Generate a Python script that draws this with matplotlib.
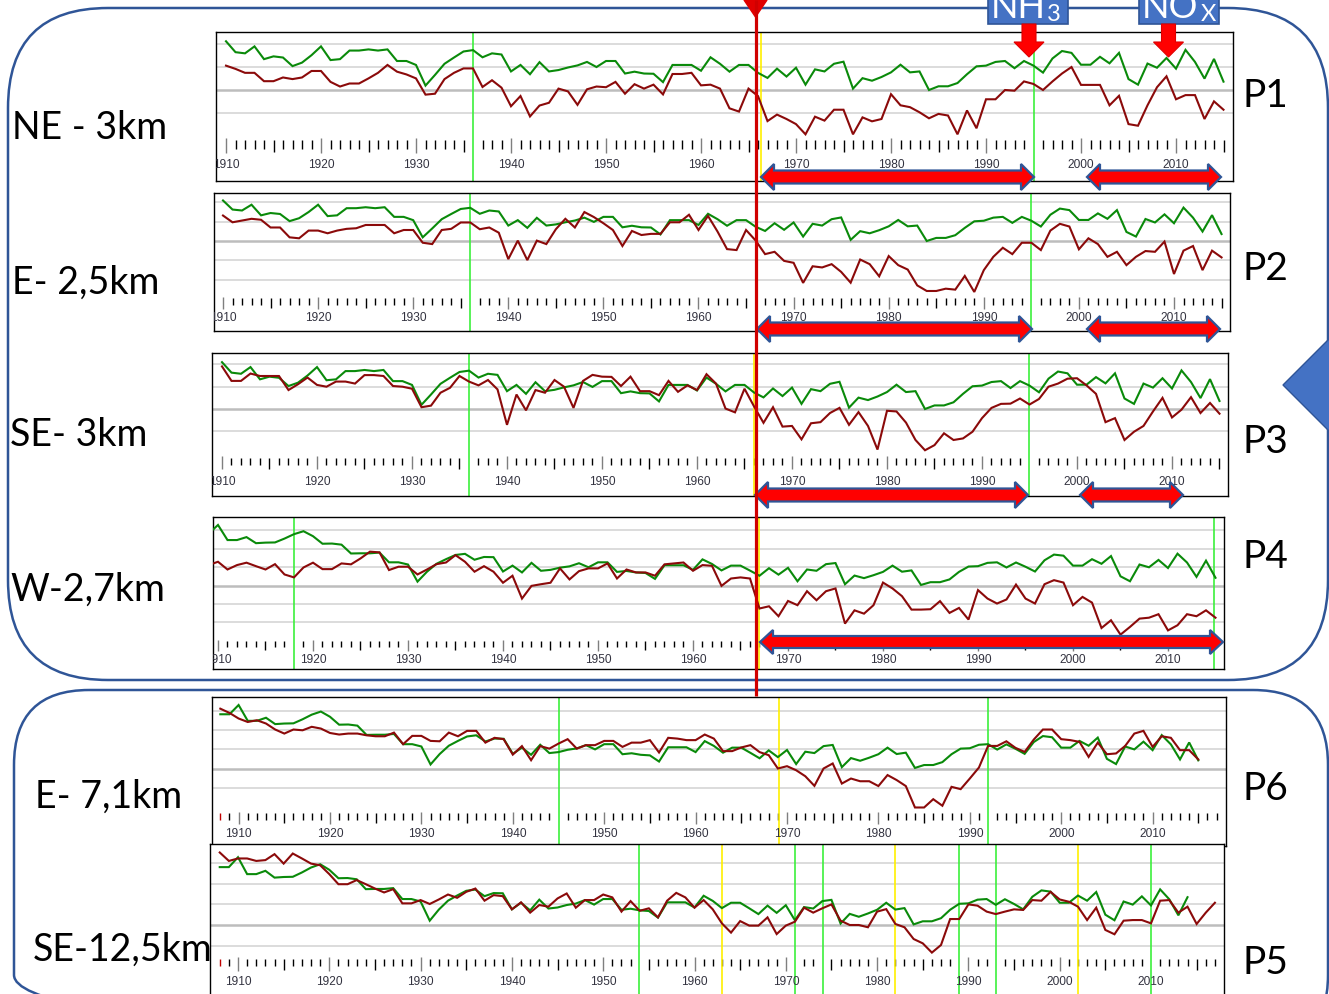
import matplotlib
matplotlib.use('Agg')
import matplotlib.pyplot as plt
from matplotlib.patches import FancyBboxPatch, Polygon, Rectangle

W, H = 1329, 994

# ---------------- data (values in grid-line units, 0 = heavy grid line) ----------------
YEARS_A = list(range(1910, 2016))
GREEN_A = [2.1, 1.63, 1.58, 1.88, 1.33, 1.45, 1.4, 1.03, 1.18, 1.5,
           1.88, 1.29, 1.33, 1.7, 1.7, 1.75, 1.7, 1.75, 1.25, 1.25,
           1.08, 0.19, 0.65, 1.13, 1.4, 1.66, 1.72, 1.41, 1.58, 1.53,
           0.8, 1.08, 0.68, 1.2, 0.8, 0.86, 0.97, 1.06, 1.21, 0.99,
           1.25, 1.25, 0.71, 0.79, 0.71, 0.7, 0.34, 1.08, 1.08, 1.08,
           0.83, 1.41, 1.13, 0.79, 1.08, 1.08, 0.74, 0.52, 0.92, 0.58,
           0.96, 0.23, 0.89, 0.8, 1.13, 1.22, 0.06, 0.51, 0.4, 0.56,
           0.76, 1.09, 0.76, 0.8, 0.0, 0.16, 0.16, 0.3, 0.68, 1.02,
           1.05, 1.21, 1.25, 0.94, 1.25, 1.05, 0.75, 1.36, 1.68, 1.6,
           1.09, 1.09, 1.43, 1.15, 1.6, 0.47, 0.23, 1.14, 0.96, 1.38,
           0.92, 1.73, 1.21, 0.49, 1.34, 0.36]

YEARS_B = list(range(1908, 2016))
GREEN_B = [2.81, 2.81,
           3.29, 2.47, 2.47, 2.63, 2.3, 2.33, 2.34, 2.55, 2.79, 2.95,
           2.68, 2.27, 2.28, 2.22, 1.74, 1.75, 1.75, 1.79, 1.26, 1.26,
           1.14, 0.21, 0.75, 1.18, 1.43, 1.66, 1.72, 1.4, 1.55, 1.54,
           0.76, 1.08, 0.71, 1.23, 0.8, 0.85, 0.97, 1.04, 1.21, 0.99,
           1.26, 1.26, 0.74, 0.79, 0.71, 0.68, 0.36, 1.1, 1.1, 1.1,
           0.85, 1.42, 1.17, 0.82, 1.08, 1.08, 0.81, 0.53, 0.94, 0.59,
           0.96, 0.23, 0.87, 0.8, 1.16, 1.22, 0.07, 0.54, 0.4, 0.56,
           0.74, 1.08, 0.75, 0.82, 0.03, 0.18, 0.18, 0.33, 0.74, 1.03,
           1.05, 1.23, 1.26, 0.98, 1.25, 1.02, 0.76, 1.37, 1.68, 1.62,
           1.08, 1.08, 1.43, 1.18, 1.6, 0.5, 0.23, 1.14, 0.99, 1.39,
           0.95, 1.73, 1.25, 0.47, 1.35, 0.42]

P1_RED = [1.05, 0.91, 0.74, 0.74, 0.38, 0.38, 0.54, 0.47, 0.54, 0.82,
          0.82, 0.35, 0.15, 0.28, 0.28, 0.5, 0.74, 1.08, 0.79, 0.67,
          0.5, -0.2, -0.16, 0.47, 0.74, 0.93, 0.93, 0.13, 0.42, 0.1,
          -0.7, -0.26, -1.14, -0.67, -0.55, 0.06, -0.06, -0.64, 0.03, 0.15,
          0.12, 0.35, -0.16, 0.25, 0.06, 0.23, -0.19, 0.69, 0.69, 0.74,
          0.2, 0.23, 0.06, -0.79, -0.93, 0.06, -0.26, -1.34, -1.06, -1.25,
          -1.47, -1.91, -1.15, -1.32, -0.85, -0.85, -1.91, -1.18, -1.35, -1.25,
          -0.18, -0.66, -0.74, -0.96, -1.22, -1.03, -1.1, -1.91, -0.88, -1.65,
          -0.4, -0.4, 0.0, -0.03, 0.37, 0.26, 0.0, 0.37, 0.71, 0.99,
          0.22, 0.22, 0.22, -0.66, -0.25, -1.47, -1.54, -0.66, 0.12, 0.59,
          -0.4, -0.22, -0.22, -1.25, -0.49, -0.85]

P2_RED = [1.32, 0.97, 1.06, 1.15, 1.1, 0.7, 0.7, 0.19, 0.14, 0.54,
          0.54, 0.4, 0.54, 0.63, 0.66, 0.83, 0.83, 0.83, 0.4, 0.57,
          0.57, -0.09, -0.16, 0.57, 0.63, 0.96, 0.96, 0.61, 0.7, 0.43,
          -0.94, 0.02, -0.99, 0.02, -0.16, 0.61, 1.15, 0.7, 1.5, 1.24,
          0.92, 0.57, -0.26, 0.52, 0.31, 0.37, 0.37, 0.97, 0.97, 1.36,
          0.57, 1.3, 0.49, -0.42, -0.47, 0.57, 0.03, -0.68, -0.56, -1.03,
          -1.13, -2.17, -1.31, -1.37, -1.2, -1.6, -2.16, -0.96, -1.2, -1.83,
          -0.78, -1.25, -1.48, -2.3, -2.59, -2.59, -2.47, -2.52, -1.81, -2.64,
          -1.51, -0.82, -0.35, -0.68, -0.09, -0.09, -0.47, 0.54, 0.89, 0.75,
          -0.43, 0.14, -0.16, -0.82, -0.56, -1.25, -0.82, -0.52, -0.56, -0.03,
          -1.71, -0.5, -0.26, -1.51, -0.5, -0.85]

P3_RED = [1.91, 1.26, 1.26, 1.59, 1.48, 1.48, 1.48, 0.85, 1.11, 1.41,
          1.08, 1.0, 1.23, 1.23, 1.14, 1.52, 1.52, 1.48, 1.03, 1.0,
          0.91, 0.08, 0.15, 0.73, 0.95, 1.48, 1.23, 1.06, 1.3, 0.88,
          -0.71, 0.65, -0.06, 0.85, 0.73, 1.3, 1.0, 0.05, 1.26, 1.53,
          1.45, 1.44, 1.03, 1.45, 0.8, 0.8, 0.62, 1.26, 0.77, 1.06,
          0.85, 1.56, 1.14, 0.02, -0.15, 0.91, 0.12, -0.62, 0.08, -0.79,
          -0.76, -1.36, -0.64, -0.59, -0.18, 0.05, -0.71, -0.14, -0.76, -1.82,
          -0.08, -0.11, -0.61, -1.39, -1.85, -1.62, -1.09, -1.39, -1.32, -1.02,
          -0.41, 0.05, 0.23, 0.24, 0.47, 0.2, 0.45, 1.0, 1.14, 1.36,
          1.38, 1.06, 0.68, -0.59, -0.41, -1.39, -1.02, -0.76, -0.11, 0.5,
          -0.38, -0.03, 0.53, -0.18, 0.27, -0.21]

P4_RED_YEARS = list(range(1909, 2016))
P4_RED = [1.11,
          1.29, 0.87, 1.11, 1.24, 1.05, 0.87, 1.16, 0.6, 0.44, 0.98,
          1.24, 0.89, 0.89, 1.2, 1.15, 1.47, 1.84, 1.8, 0.84, 1.02,
          1.02, 0.6, 0.87, 1.16, 1.25, 1.65, 1.29, 0.75, 1.05, 0.75,
          0.15, 0.53, -0.71, -0.02, 0.07, 0.15, 0.93, 0.33, 0.78, 0.93,
          0.93, 1.2, 0.38, 0.87, 0.71, 0.71, 0.53, 1.15, 1.2, 1.25,
          0.8, 1.11, 1.07, -0.02, 0.38, 0.44, 0.38, -1.25, -1.13, -1.67,
          -0.84, -1.07, -0.31, -0.8, -0.31, -0.16, -2.07, -1.35, -1.53, -1.07,
          0.16, -0.16, -0.58, -1.31, -1.31, -1.29, -0.85, -1.49, -1.22, -1.85,
          -0.25, -0.71, -0.98, -0.76, 0.05, -0.71, -0.98, 0.07, 0.29, 0.16,
          -1.07, -0.62, -0.93, -2.31, -1.89, -2.67, -2.25, -1.8, -1.75, -1.56,
          -2.44, -2.16, -1.56, -1.67, -1.35, -1.75]

P6_RED_YEARS = list(range(1908, 2016))
P6_RED = [3.1, 2.88,
          2.59, 2.41, 2.5, 2.33, 2.02, 1.81, 2.02, 1.98, 2.16, 2.07,
          1.84, 1.76, 1.81, 1.81, 1.72, 1.67, 1.67, 1.86, 1.26, 1.69,
          1.69, 1.43, 1.41, 1.86, 1.67, 1.95, 1.95, 1.34, 1.59, 1.52,
          0.72, 1.16, 0.43, 1.16, 1.03, 1.29, 1.52, 1.03, 1.21, 1.21,
          1.43, 1.43, 1.12, 1.34, 1.34, 1.47, 0.83, 1.59, 1.55, 1.47,
          1.47, 1.76, 1.55, 0.9, 0.9, 1.09, 1.21, 0.85, 0.69, 0.0,
          0.12, -0.09, -0.4, -0.9, 0.0, 0.26, -0.78, -0.52, -0.66, -0.66,
          -0.91, -0.34, -0.6, -0.91, -2.02, -2.02, -1.59, -1.93, -0.95, -1.07,
          -0.52, 0.05, 1.17, 1.17, 1.41, 1.07, 0.86, 1.5, 2.02, 2.02,
          1.52, 1.47, 1.38, 0.6, 1.34, 0.74, 0.78, 1.17, 1.81, 1.95,
          1.12, 1.67, 1.59, 0.95, 0.95, 0.47]

P5_RED_YEARS = list(range(1908, 2018))
P5_RED = [3.52, 3.11,
          3.23, 3.23, 3.11, 3.15, 3.44, 2.98, 3.47, 3.23, 2.98, 2.9,
          2.47, 1.98, 1.98, 2.18, 1.98, 1.77, 1.58, 1.74, 1.05, 1.05,
          1.21, 1.02, 1.24, 1.48, 1.32, 1.61, 1.77, 1.18, 1.45, 1.4,
          0.76, 1.1, 0.6, 0.97, 0.89, 1.29, 1.53, 0.84, 1.21, 1.21,
          1.48, 1.34, 0.65, 1.16, 0.69, 0.81, 0.37, 1.18, 1.56, 1.34,
          0.84, 1.21, 0.76, 0.08, -0.37, 0.19, -0.03, -0.03, 0.37, -0.44,
          -0.03, 0.16, 0.84, 0.6, 0.81, 1.0, 0.21, 0.0, 0.0, -0.11,
          0.65, 0.77, 0.05, -0.11, -0.68, -0.89, -1.34, -0.97, 0.29, 0.29,
          1.0, 0.94, 0.65, 0.53, 0.65, 0.76, 0.73, 1.21, 1.18, 1.61,
          1.24, 1.13, 0.89, 0.24, 0.84, -0.24, -0.45, 0.21, 0.24, 0.24,
          0.08, 1.18, 1.21, 0.6, 0.89, 0.05, 0.6, 1.08]
P5_GREEN_LAST = 2014

SITE_LABELS = ["NE - 3km", "E- 2,5km", "SE- 3km", "W-2,7km", "E- 7,1km", "SE-12,5km"]
PANEL_NAMES = ["P1", "P2", "P3", "P4", "P6", "P5"]

# ---------------- style ----------------
GREEN = '#0A8A0A'
RED = '#8B0A0A'
LIME = '#3CF03C'
YELLOW = '#FFF000'
BLUE_EDGE = '#2F5597'
BLUE_FILL = '#4472C4'
ARROW_RED = '#FF0000'
LABEL_FONT = ['Lato', 'DejaVu Sans']

fig = plt.figure(figsize=(W / 100, H / 100), dpi=100)
fig.patch.set_facecolor('white')


def panel(L, R, T, B, x1910, ppy, g0, unit, grid_vals, series, tick_top, tick_scale,
          tick_years, label_y, vlines, red_first_tick=False):
    ax = fig.add_axes([L / W, 1 - B / H, (R - L) / W, (B - T) / H])
    ax.set_xlim(1910 + (L - x1910) / ppy, 1910 + (R - x1910) / ppy)
    ax.set_ylim((g0 - B) / unit, (g0 - T) / unit)
    ax.set_xticks([])
    ax.set_yticks([])
    for s in ax.spines.values():
        s.set_color('black')
        s.set_linewidth(1.0)
    for gv in grid_vals:
        if gv == 0:
            ax.axhline(gv, color='#BDBDBD', lw=1.8, zorder=1)
        else:
            ax.axhline(gv, color='#D6D6D6', lw=1.2, zorder=1)
    tr = ax.get_xaxis_transform()

    def fr(py):
        return (B - py) / (B - T)

    skip = {round(v[0]) for v in vlines if v[1] == LIME}
    for i, yr in enumerate(tick_years):
        if yr % 10 == 0:
            ax.text(yr, fr(label_y), str(yr), transform=tr, ha='center', va='center',
                    fontsize=8.6, color='#333340', family=['Liberation Sans', 'DejaVu Sans'],
                    clip_on=True, zorder=3)
        if yr in skip:
            continue
        if yr % 10 == 0:
            y0, y1, c = 0, 15, '#7F7F7F'
        elif yr % 5 == 0:
            y0, y1, c = 1.7, 14, 'black'
        else:
            y0, y1, c = 1.7, 10.5, 'black'
        if red_first_tick and i == 0:
            c = '#C00000'
        ax.plot([yr, yr], [fr(tick_top + y0 * tick_scale), fr(tick_top + y1 * tick_scale)],
                transform=tr, color=c, lw=1.0, zorder=2, solid_capstyle='butt')
    for yr, c in vlines:
        ax.axvline(yr, color=c, lw=1.2, zorder=2)
    for yrs, vals, c in series:
        ax.plot(yrs, vals, color=c, lw=1.5, zorder=4, solid_joinstyle='miter')
    return ax


A_TICKS = list(range(1910, 2016))
B_TICKS = list(range(1908, 2018))

panel(216, 1233, 32, 181, 226, 9.5, 90, 23.2, [2, 1, 0, -1],
      [(YEARS_A, GREEN_A, GREEN), (YEARS_A, P1_RED, RED)],
      138.3, 1.0, A_TICKS, 165,
      [(1936, LIME), (1995, LIME), (1966.3, YELLOW)])
panel(214, 1230, 193, 331, 223, 9.51, 241, 19.3, [2, 1, 0, -1, -2],
      [(YEARS_A, GREEN_A, GREEN), (YEARS_A, P2_RED, RED)],
      296.7, 0.8, A_TICKS, 318.3,
      [(1936, LIME), (1995, LIME)])
panel(212, 1228, 353, 496, 222, 9.5, 409, 22.3, [2, 1, 0, -1],
      [(YEARS_A, GREEN_A, GREEN), (YEARS_A, P3_RED, RED)],
      456, 0.9, A_TICKS, 481.7,
      [(1936, LIME), (1995, LIME), (1966.0, YELLOW)])
panel(213, 1224, 517, 669, 218, 9.5, 585.5, 18.4, [3, 2, 1, 0, -1, -2],
      [(YEARS_B, GREEN_B, GREEN), (P4_RED_YEARS, P4_RED, RED)],
      640, 0.7, A_TICKS, 660,
      [(1918, LIME), (2014.8, LIME), (1966.9, YELLOW)])
panel(212, 1226, 697, 846, 238.6, 9.14, 768.5, 19.3, [3, 2, 1, 0, -1],
      [(YEARS_B, GREEN_B, GREEN), (P6_RED_YEARS, P6_RED, RED)],
      812, 0.8, B_TICKS, 834.3,
      [(1945, LIME), (1992, LIME), (1969.1, YELLOW)], red_first_tick=True)
n5 = P5_GREEN_LAST - YEARS_B[0] + 1
panel(210, 1224, 844, 1004, 238, 9.13, 925, 20.6, [3, 2, 1, 0, -1],
      [(YEARS_B[:n5], GREEN_B[:n5], GREEN), (P5_RED_YEARS, P5_RED, RED)],
      957, 0.9, B_TICKS, 981.7,
      [(1953.9, LIME), (1963, YELLOW), (1971, LIME), (1974.1, LIME), (1982, YELLOW),
       (1989, LIME), (1993, LIME), (2002, YELLOW), (2010, LIME)], red_first_tick=True)

# ---------------- overlay (pixel coordinates, y down) ----------------
ov = fig.add_axes([0, 0, 1, 1])
ov.set_xlim(0, W)
ov.set_ylim(H, 0)
ov.axis('off')
ov.set_zorder(10)
ov.patch.set_alpha(0)

ov.add_patch(FancyBboxPatch((8, 8), 1320, 672, boxstyle='round,pad=0,rounding_size=100',
                            fill=False, ec=BLUE_EDGE, lw=1.8))
ov.add_patch(FancyBboxPatch((14, 690), 1314, 360, boxstyle='round,pad=0,rounding_size=75',
                            fill=False, ec=BLUE_EDGE, lw=1.8))

# right-side triangle
ov.add_patch(Polygon([(1283, 385), (1331, 337), (1331, 433)], closed=True,
                     fc=BLUE_FILL, ec=BLUE_EDGE, lw=1))

# red vertical marker with head at the top
ov.plot([755.5, 755.5], [0, 696], color='#D00000', lw=2.3, solid_capstyle='butt')
ov.add_patch(Polygon([(744, 0), (767, 0), (755.5, 17)], closed=True, fc='#E00000', ec='#E00000'))


def double_arrow(a, b, c, hl=13, hh=13, sh=6.5):
    pts = [(a, c), (a + hl, c - hh), (a + hl, c - sh), (b - hl, c - sh), (b - hl, c - hh),
           (b, c), (b - hl, c + hh), (b - hl, c + sh), (a + hl, c + sh), (a + hl, c + hh)]
    ov.add_patch(Polygon(pts, closed=True, fc=ARROW_RED, ec=BLUE_EDGE, lw=1.6, joinstyle='miter'))


double_arrow(761, 1034, 177)
double_arrow(1087, 1221, 177)
double_arrow(757, 1032, 329)
double_arrow(1087, 1220, 329)
double_arrow(755, 1028, 495)
double_arrow(1080, 1183, 495)
double_arrow(760, 1223, 642, hh=12, sh=6)

# NH3 / NOx boxes (text runs off the top edge, as in the source slide)
for x0, x1, main, sub, sub_x, ax_c in [(988, 1068, 'NH', '3', 1047, 1029),
                                       (1139, 1219, 'NO', 'X', 1201, 1168.5)]:
    ov.add_patch(Rectangle((x0, -10), x1 - x0, 34, fc=BLUE_FILL, ec=BLUE_EDGE, lw=1.2))
    ov.text(x0 + 3, 18, main, color='white', fontsize=26, family=LABEL_FONT,
            ha='left', va='baseline')
    ov.text(sub_x, 21, sub, color='white', fontsize=17, family=LABEL_FONT,
            ha='left', va='baseline')
    ov.add_patch(Polygon([(ax_c - 7, 24), (ax_c + 7, 24), (ax_c + 7, 42), (ax_c + 15, 42),
                          (ax_c, 57), (ax_c - 15, 42), (ax_c - 7, 42)], closed=True,
                         fc='#FF0000', ec='#E00000', lw=0.8))

# labels
left_pos = [(12, 128), (12, 283), (10, 435), (10, 590), (35, 797), (33, 950)]
for (x, y), t in zip(left_pos, SITE_LABELS):
    ov.text(x, y, t, fontsize=27, family=LABEL_FONT, ha='left', va='center', color='black')
right_pos = [(1243, 96), (1243, 269), (1243, 442), (1243, 557), (1243, 789), (1243, 963)]
for (x, y), t in zip(right_pos, PANEL_NAMES):
    ov.text(x, y, t, fontsize=28, family=LABEL_FONT, ha='left', va='center', color='black')

fig.savefig('out.png', dpi=100)
